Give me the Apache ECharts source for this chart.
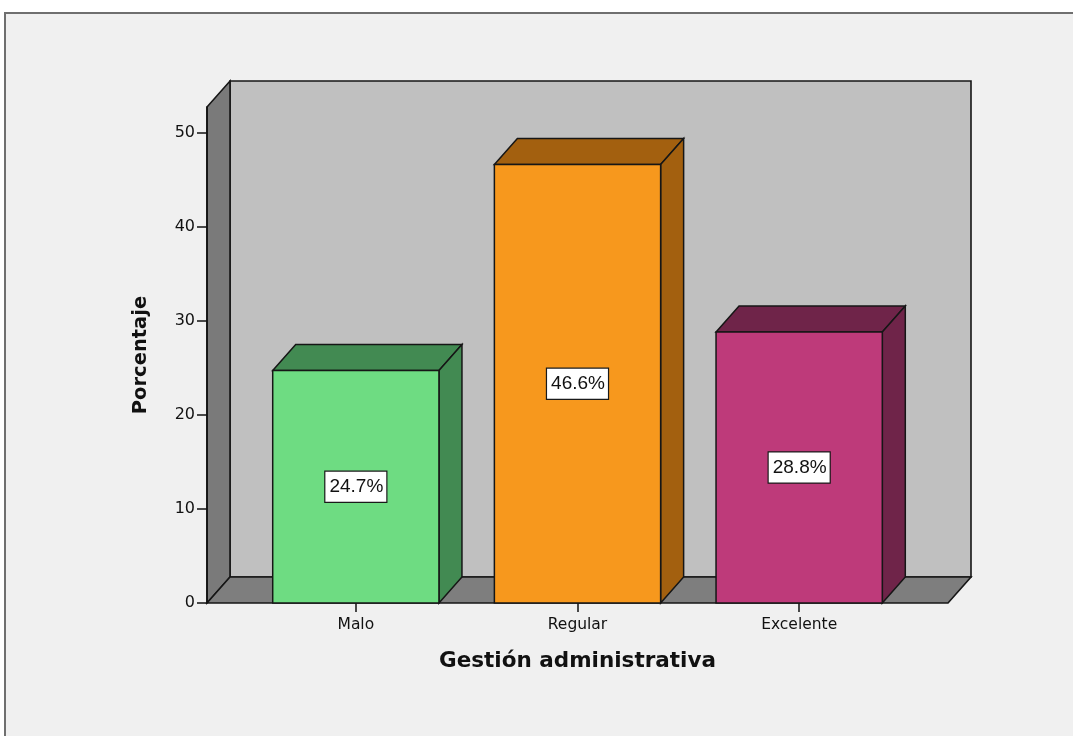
<!DOCTYPE html>
<html>
<head>
<meta charset="utf-8">
<title>Gestión administrativa</title>
<script src="https://cdn.jsdelivr.net/npm/echarts@6/dist/echarts.min.js"></script>
<style>
  html, body { margin: 0; padding: 0; background: #ffffff; }
  #chart { width: 1073px; height: 736px; }
</style>
</head>
<body>
<div id="chart"></div>
<script>
// Categories and percentages
const categories = ['Malo', 'Regular', 'Excelente'];
const percentages = [24.7, 46.6, 28.8];
const yTickValues = [0, 10, 20, 30, 40, 50];

// Face colours per bar: front face and the darker top/side faces
const frontColors = ['#6edc82', '#f7981d', '#be3a7a'];
const shadeColors = ['#428a52', '#a3600f', '#6f2449'];

// 3D look: depth offset of the back plane and padding of the floor beyond the bands
const DEPTH_X = 23;
const DEPTH_Y = 26;
const SIDE_PAD = 38;
const BAR_RATIO = 0.75;
const EDGE = '#161616';

const chart = echarts.init(document.getElementById('chart'), null, { renderer: 'canvas' });

function renderWalls(params, api) {
  const cs = params.coordSys;
  const left = cs.x - SIDE_PAD;
  const right = cs.x + cs.width + SIDE_PAD;
  const top = cs.y;
  const bottom = cs.y + cs.height;
  return {
    type: 'group',
    children: [
      {
        type: 'rect',
        shape: { x: left + DEPTH_X, y: top - DEPTH_Y, width: right - left, height: bottom - top },
        style: { fill: '#c0c0c0', stroke: EDGE, lineWidth: 1.6 }
      },
      {
        type: 'polygon',
        shape: { points: [[left, top], [left + DEPTH_X, top - DEPTH_Y], [left + DEPTH_X, bottom - DEPTH_Y], [left, bottom]] },
        style: { fill: '#7a7a7a', stroke: EDGE, lineWidth: 1.6, lineJoin: 'miter' }
      },
      {
        type: 'polygon',
        shape: { points: [[left, bottom], [left + DEPTH_X, bottom - DEPTH_Y], [right + DEPTH_X, bottom - DEPTH_Y], [right, bottom]] },
        style: { fill: '#7e7e7e', stroke: EDGE, lineWidth: 1.6, lineJoin: 'miter' }
      }
    ]
  };
}

function renderBar(params, api) {
  const idx = api.value(0);
  const val = api.value(1);
  const base = api.coord([idx, 0]);
  const topPt = api.coord([idx, val]);
  const bw = api.size([1, 0])[0] * BAR_RATIO;
  const x0 = base[0] - bw / 2;
  const x1 = base[0] + bw / 2;
  const yb = base[1];
  const yt = topPt[1];
  const front = frontColors[params.dataIndex];
  const shade = shadeColors[params.dataIndex];
  return {
    type: 'group',
    children: [
      {
        type: 'polygon',
        shape: { points: [[x0, yt], [x0 + DEPTH_X, yt - DEPTH_Y], [x1 + DEPTH_X, yt - DEPTH_Y], [x1, yt]] },
        style: { fill: shade, stroke: EDGE, lineWidth: 1.5 }
      },
      {
        type: 'polygon',
        shape: { points: [[x1, yt], [x1 + DEPTH_X, yt - DEPTH_Y], [x1 + DEPTH_X, yb - DEPTH_Y], [x1, yb]] },
        style: { fill: shade, stroke: EDGE, lineWidth: 1.5 }
      },
      {
        type: 'rect',
        shape: { x: x0, y: yt, width: bw, height: yb - yt },
        style: { fill: front, stroke: EDGE, lineWidth: 1.5 }
      },
      {
        type: 'text',
        x: base[0],
        y: (yt + yb) / 2,
        style: {
          text: val.toFixed(1) + '%',
          font: '19px "Liberation Sans", Arial, sans-serif',
          fill: '#111',
          align: 'center',
          verticalAlign: 'middle',
          backgroundColor: '#ffffff',
          borderColor: '#1a1a1a',
          borderWidth: 1.2,
          padding: [6, 3, 5, 4]
        }
      }
    ]
  };
}

const option = {
  backgroundColor: '#ffffff',
  animation: false,
  graphic: [
    {
      type: 'rect',
      z: -10,
      shape: { x: 5, y: 13, width: 1200, height: 800 },
      style: { fill: '#f0f0f0', stroke: '#6f6f6f', lineWidth: 2 }
    }
  ],
  grid: { left: 245, right: 163, top: 107, bottom: 133, containLabel: false },
  xAxis: {
    type: 'category',
    data: categories,
    name: 'Gestión administrativa',
    nameLocation: 'middle',
    nameGap: 47,
    nameTextStyle: { fontFamily: 'DejaVu Sans', fontWeight: 'bold', fontSize: 21.5, color: '#111' },
    axisLine: { show: false },
    axisTick: { show: true, alignWithLabel: true, length: 9, lineStyle: { color: '#111', width: 1.5 } },
    axisLabel: { fontFamily: 'DejaVu Sans', fontSize: 15.5, color: '#111', margin: 14 },
    splitLine: { show: false }
  },
  yAxis: {
    type: 'value',
    min: 0,
    max: 52.7,
    interval: 10,
    offset: SIDE_PAD,
    z: 5,
    name: 'Porcentaje',
    nameLocation: 'middle',
    nameRotate: 90,
    nameGap: 56,
    nameTextStyle: { fontFamily: 'DejaVu Sans', fontWeight: 'bold', fontSize: 19.5, color: '#111' },
    axisLine: { show: true, lineStyle: { color: '#111', width: 1.6 } },
    axisTick: { show: true, length: 10, customValues: yTickValues, lineStyle: { color: '#111', width: 1.5 } },
    axisLabel: {
      fontFamily: 'DejaVu Sans', fontSize: 16, color: '#111', margin: 12,
      customValues: yTickValues
    },
    splitLine: { show: false }
  },
  series: [
    {
      type: 'custom',
      name: 'walls',
      z: 1,
      clip: false,
      silent: true,
      renderItem: renderWalls,
      data: [[0, 0]]
    },
    {
      type: 'custom',
      name: 'Porcentaje',
      z: 3,
      clip: false,
      renderItem: renderBar,
      encode: { x: 0, y: 1 },
      data: categories.map(function (c, i) { return [i, percentages[i]]; })
    }
  ]
};

chart.setOption(option);
</script>
</body>
</html>
